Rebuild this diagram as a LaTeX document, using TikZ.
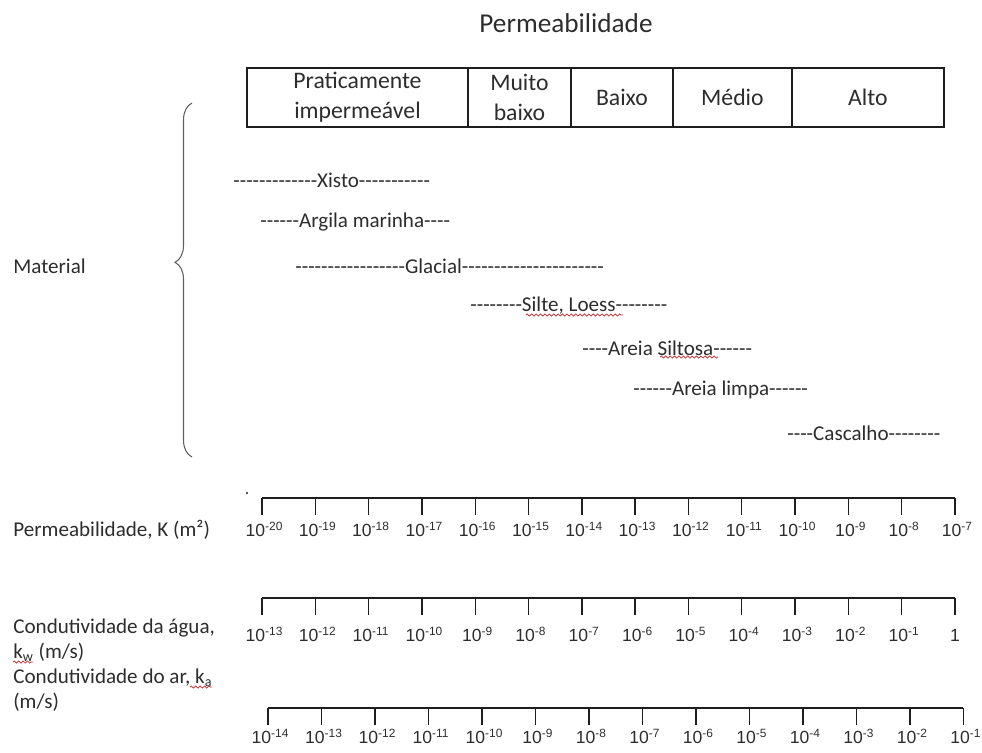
\documentclass[tikz,border=0pt]{standalone}
\usepackage{fontspec}
\setmainfont{Carlito}
\newfontfamily\arialfont{Liberation Sans}
\usepackage{tikz}
\usetikzlibrary{positioning, decorations.pathreplacing, decorations.pathmorphing}
\definecolor{mytext}{RGB}{45,45,45}
\definecolor{myline}{RGB}{30,30,30}
\definecolor{mybrace}{RGB}{95,95,95}
\definecolor{myred}{RGB}{200,40,40}
% typed hyphens, kept apart so they do not join into dashes
\newcommand{\hyphs}[1]{\foreach \n in {1,...,#1}{-}}
\newcommand{\pot}[1]{10\raisebox{0.32em}{\fontsize{6.8}{7}\selectfont #1}}
\tikzset{
  cell/.style={rectangle, draw=myline, line width=0.75pt, outer sep=0pt,
    inner sep=0pt, minimum height=1.18cm, align=center,
    font=\fontsize{13.5}{17}\selectfont, text=mytext},
  mat/.style={anchor=west, inner sep=0pt,
    font=\fontsize{12}{14}\selectfont, text=mytext},
  lbl/.style={anchor=west, inner sep=0pt, align=left,
    font=\fontsize{12}{14.2}\selectfont, text=mytext},
  ticklbl/.style={anchor=base, inner sep=0pt,
    font=\arialfont\fontsize{10}{12}\selectfont, text=mytext},
  scaleline/.style={line width=0.8pt, color=myline},
  squiggle/.style={color=myred, line width=0.4pt, decorate,
    decoration={snake, amplitude=0.6pt, segment length=2.5pt}}
}

\begin{document}
\begin{tikzpicture}[x=0.02cm, y=-0.02cm]
  \useasboundingbox (0,0) rectangle (982,752);

  % ── Title and classes ─────────────────────────────────────────────
  \node[font=\fontsize{15.5}{18}\selectfont, text=mytext] (titulo) at (566,23) {Permeabilidade};
  \node[cell, minimum width=4.42cm, anchor=north west] (prat) at (247,68) {Praticamente\\impermeável};
  \node[cell, minimum width=2.06cm, right=0pt of prat]  (muito) {Muito\\baixo};
  \node[cell, minimum width=2.04cm, right=0pt of muito] (baixo) {Baixo};
  \node[cell, minimum width=2.38cm, right=0pt of baixo] (medio) {Médio};
  \node[cell, minimum width=3.04cm, right=0pt of medio] (alto)  {Alto};

  % ── Materials ─────────────────────────────────────────────────────
  \node[lbl] (material) at (13,266) {Material};
  \draw[mybrace, line width=0.6pt, decorate,
    decoration={brace, amplitude=0.34cm, aspect=0.55}] (192,457) -- (192,103);

  \node[mat] (xisto)        at (233,180) {\hyphs{13}Xisto\hyphs{11}};
  \node[mat] (argila)       at (260,222) {\hyphs{6}Argila marinha\hyphs{4}};
  \node[mat] (glacial)      at (295,266) {\hyphs{17}Glacial\hyphs{22}};
  \node[mat] (silte)        at (470,306) {\hyphs{8}Silte, Loess\hyphs{8}};
  \node[mat] (areiasiltosa) at (582,348) {\hyphs{4}Areia Siltosa\hyphs{6}};
  \node[mat] (areialimpa)   at (633,390) {\hyphs{6}Areia limpa\hyphs{6}};
  \node[mat] (cascalho)     at (787,433) {\hyphs{4}Cascalho\hyphs{8}};
  % spell-check marks
  \draw[squiggle] (526,315) -- (623,315);
  \draw[squiggle] (660,357) -- (718,357);

  % ── Permeability scale ────────────────────────────────────────────
  \node[lbl] (permlbl) at (13,530) {Permeabilidade, K (m²)};
  \fill[myline] (247,493) circle (0.6pt);
  \draw[scaleline] (262,498) -- (955,498);
  \foreach \e [count=\i from 0] in {-20,...,-7} {
    \draw[scaleline] (262+53.3*\i,498) -- ++(0,17);
    \node[ticklbl] (perm\i) at (264+53.3*\i,536) {\pot{\e}};
  }

  % ── Water conductivity scale ──────────────────────────────────────
  \node[lbl] (agualbl) at (13,640) {Condutividade da água,\\k\textsubscript{w} (m/s)};
  \draw[squiggle] (13,662) -- (33,662);
  \draw[scaleline] (262,598) -- (955,598);
  \foreach \i in {0,...,13}
    \draw[scaleline] (262+53.3*\i,598) -- ++(0,17);
  \foreach \e [count=\i from 0] in {-13,...,-1}
    \node[ticklbl] (agua\i) at (264+53.3*\i,641) {\pot{\e}};
  \node[ticklbl] (agua13) at (955,641) {1};

  % ── Air conductivity scale ────────────────────────────────────────
  \node[lbl] (arlbl) at (13,690) {Condutividade do ar, k\textsubscript{a}\\(m/s)};
  \draw[squiggle] (190,687) -- (212,687);
  \draw[scaleline] (268,708) -- (963,708);
  \foreach \e [count=\i from 0] in {-14,...,-1} {
    \draw[scaleline] (268+53.5*\i,708) -- ++(0,17);
    \node[ticklbl] (ar\i) at (270+53.5*\i,743) {\pot{\e}};
  }
\end{tikzpicture}
\end{document}
